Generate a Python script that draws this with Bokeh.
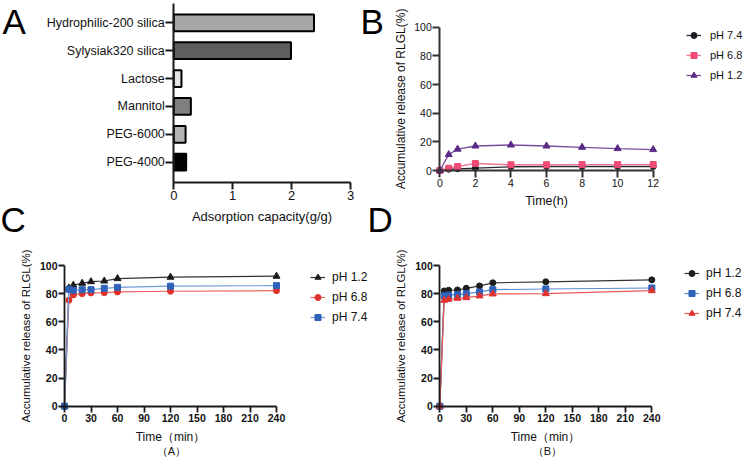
from bokeh.plotting import figure
from bokeh.layouts import row, column
from bokeh.models import Range1d, FixedTicker, Legend, LegendItem, Label, ColumnDataSource
from bokeh.embed import file_html
from bokeh.resources import INLINE

FONT = "Liberation Sans"

# ---------------- Panel A data ----------------
a_materials = ["Hydrophilic-200 silica", "Sylysiak320 silica", "Lactose", "Mannitol", "PEG-6000", "PEG-4000"]
a_capacity = [2.38, 1.99, 0.13, 0.29, 0.20, 0.21]
a_colors = ["#a6a6a6", "#5e5e5e", "#e4e4e4", "#7f7f7f", "#b4b4b4", "#000000"]
a_xticks = [0, 1, 2, 3]

# ---------------- Panel B data ----------------
b_time = [0, 0.5, 1, 2, 4, 6, 8, 10, 12]
b_ph74 = [0, 0.9, 1.2, 1.6, 2.6, 2.8, 2.8, 2.8, 2.8]
b_ph68 = [0, 1.6, 2.8, 4.9, 4.0, 4.0, 4.1, 4.1, 4.1]
b_ph12 = [0, 11.1, 14.9, 17.1, 17.8, 17.1, 16.2, 15.3, 14.6]
b_xticks = [0, 2, 4, 6, 8, 10, 12]

# ---------------- Panel C data ----------------
c_time = [0, 5, 10, 20, 30, 45, 60, 120, 240]
c_ph12 = [0, 84.0, 86.0, 87.4, 88.5, 89.0, 90.7, 91.7, 92.4]
c_ph68 = [0, 75.3, 79.1, 80.0, 80.5, 80.7, 81.2, 81.7, 82.1]
c_ph74 = [0, 83.1, 82.4, 82.8, 82.8, 83.8, 84.5, 85.3, 85.7]

# ---------------- Panel D data ----------------
d_time = [0, 5, 10, 20, 30, 45, 60, 120, 240]
d_ph12 = [0, 81.9, 82.4, 82.6, 83.8, 85.5, 87.7, 88.4, 89.8]
d_ph68 = [0, 78.4, 78.9, 79.3, 80.0, 81.2, 82.8, 83.3, 84.0]
d_ph74 = [0, 75.3, 76.0, 76.7, 77.2, 78.4, 79.8, 80.0, 82.1]

min_xticks = [0, 30, 60, 90, 120, 150, 180, 210, 240]
pct_ticks = [0, 20, 40, 60, 80, 100]
YLABEL = "Accumulative release of RLGL(%)"

TOP_H = 240          # height of the upper row
BOT_H = 459 - TOP_H  # height of the lower row


def lin(v0, p0, v1, p1, p):
    """value at pixel p for a linear map through (v0,p0) and (v1,p1)"""
    return v0 + (p - p0) * (v1 - v0) / (p1 - p0)


def base_fig(width, height, xr, yr):
    p = figure(width=width, height=height, output_backend="svg", toolbar_location=None,
               x_range=Range1d(*xr), y_range=Range1d(*yr),
               min_border_left=0, min_border_right=0, min_border_top=0, min_border_bottom=0)
    p.xgrid.visible = False
    p.ygrid.visible = False
    p.outline_line_color = None
    p.background_fill_color = "white"
    p.border_fill_color = "white"
    for ax in (p.xaxis[0], p.yaxis[0]):
        ax.axis_line_color = "#1a1a1a"
        ax.major_tick_line_color = "#1a1a1a"
        ax.minor_tick_line_color = None
        ax.major_tick_in = 0
        ax.major_label_text_color = "#111111"
        ax.major_label_text_font = FONT
        ax.axis_label_text_font = FONT
        ax.axis_label_text_font_style = "normal"
        ax.axis_label_text_color = "#111111"
    return p


def panel_letter(p, text, x, y):
    p.add_layout(Label(x=x, y=y, x_units="screen", y_units="screen", text=text,
                       text_font=FONT, text_font_size="35px", text_color="#000000",
                       text_baseline="middle", text_align="left"))


def make_legend(p, items, loc, fsize, standoff, row_h=20):
    p.add_layout(Legend(items=items, location=loc, padding=0, margin=0, spacing=0,
                        glyph_width=15, glyph_height=row_h, label_height=row_h,
                        label_standoff=standoff, label_text_font=FONT,
                        label_text_font_size=fsize, label_text_color="#111111",
                        label_text_baseline="middle",
                        border_line_alpha=0, background_fill_alpha=0))


# ================= Panel A =================  canvas: x 0..360, y 0..TOP_H
a_pos = [len(a_materials) - 1 - i for i in range(len(a_materials))]
ax_map = (0, 173.3, 3, 350.0)
ay_map = (0, 161.7, 5, 22.3)
pa = base_fig(360, TOP_H,
              (lin(*ax_map, 0), lin(*ax_map, 360)),
              (lin(*ay_map, TOP_H), lin(*ay_map, 0)))
src_a = ColumnDataSource(dict(y=a_pos, right=a_capacity, color=a_colors, name=a_materials))
pa.hbar(y="y", left=0, right="right", height=0.6, fill_color="color", line_color="#000000",
        line_width=2, source=src_a)
a_axis_y = lin(*ay_map, 182)
pa.xaxis.fixed_location = a_axis_y
pa.xaxis.bounds = (0, 3)
pa.yaxis.fixed_location = 0
pa.yaxis.bounds = (a_axis_y, lin(*ay_map, 3))
pa.xaxis.ticker = FixedTicker(ticks=a_xticks)
pa.yaxis.ticker = FixedTicker(ticks=a_pos)
pa.yaxis.major_label_overrides = {pos: name for pos, name in zip(a_pos, a_materials)}
for ax in (pa.xaxis[0], pa.yaxis[0]):
    ax.axis_line_width = 2
    ax.major_tick_line_width = 2
    ax.major_label_text_font_size = "13px"
    ax.axis_label_text_font_size = "13px"
pa.yaxis.major_label_text_font_size = "12.5px"
pa.xaxis.major_tick_out = 7
pa.yaxis.major_tick_out = 8
pa.xaxis.major_label_standoff = 1
pa.yaxis.major_label_standoff = 1
pa.xaxis.axis_label = "Adsorption capacity(g/g)"
pa.xaxis.axis_label_standoff = 6
panel_letter(pa, "A", 2, TOP_H - 20.5)
panel_letter(pa, "C", 0, TOP_H - 219)   # letter of the lower-left panel

# ================= Panel B =================  canvas: x 360..745, y 0..TOP_H
bx_map = (0, 439.3, 12, 652.7)
by_map = (0, 170.0, 100, 26.7)
pb = base_fig(385, TOP_H,
              (lin(*bx_map, 360), lin(*bx_map, 745)),
              (lin(*by_map, TOP_H), lin(*by_map, 0)))
pb.xaxis.fixed_location = 0
pb.xaxis.bounds = (0, 12)
pb.yaxis.fixed_location = 0
pb.yaxis.bounds = (0, 100)
for ax in (pb.xaxis[0], pb.yaxis[0]):
    ax.axis_line_width = 2
    ax.axis_line_color = "#333333"
    ax.major_tick_line_color = "#333333"
    ax.major_tick_line_width = 2
    ax.major_tick_out = 7
    ax.major_label_text_font_size = "10.5px"
    ax.axis_label_text_font_size = "12px"
pb.xaxis.axis_label_text_font_size = "12.5px"
pb.xaxis.ticker = FixedTicker(ticks=b_xticks)
pb.yaxis.ticker = FixedTicker(ticks=pct_ticks)
pb.xaxis.major_label_standoff = 1
pb.yaxis.major_label_standoff = 1
pb.xaxis.axis_label = "Time(h)"
pb.yaxis.axis_label = YLABEL
pb.xaxis.axis_label_standoff = 4
pb.yaxis.axis_label_standoff = 3

b_series = [
    ("pH 7.4", b_ph74, "#1c1c24", "#2a2a33", "circle", 6),
    ("pH 6.8", b_ph68, "#ee4b76", "#f27595", "square", 6),
    ("pH 1.2", b_ph12, "#5b2a86", "#7b4d9e", "triangle", 7),
]
b_items = []
for lab, ys, mc, lc, mk, sz in b_series:
    ln = pb.line(b_time, ys, line_color=lc, line_width=1.3)
    sc = pb.scatter(b_time, ys, marker=mk, size=sz, fill_color=mc, line_color=mc)
    b_items.append(LegendItem(label=lab, renderers=[ln, sc]))
make_legend(pb, b_items, (326, TOP_H - 85), "11px", 9)
panel_letter(pb, "B", 0, TOP_H - 20.5)
panel_letter(pb, "D", 7, TOP_H - 219)   # letter of the lower-right panel


# ================= Panels C, D =================
def release_fig(width, x_left, x_right, x0_px, x240_px):
    xm = (0, x0_px, 240, x240_px)
    ym = (0, 405.7, 100, 265.0)
    p = base_fig(width, BOT_H,
                 (lin(*xm, x_left), lin(*xm, x_right)),
                 (lin(*ym, 459), lin(*ym, TOP_H)))
    p.xaxis.fixed_location = 0
    p.xaxis.bounds = (0, 240)
    p.yaxis.fixed_location = 0
    p.yaxis.bounds = (0, 100)
    for ax in (p.xaxis[0], p.yaxis[0]):
        ax.axis_line_width = 1.8
        ax.major_tick_line_width = 1.8
        ax.major_tick_out = 6
        ax.major_label_text_font_size = "10.5px"
        ax.major_label_text_font_style = "bold"
        ax.axis_label_text_font_size = "11.5px"
    p.xaxis.ticker = FixedTicker(ticks=min_xticks)
    p.yaxis.ticker = FixedTicker(ticks=pct_ticks)
    p.xaxis.major_label_standoff = 2
    p.yaxis.major_label_standoff = 1
    p.xaxis.axis_label = "Time（min）"
    p.xaxis.axis_label_text_font_size = "12px"
    p.yaxis.axis_label = YLABEL
    p.xaxis.axis_label_standoff = 4
    p.yaxis.axis_label_standoff = 5
    return p


def add_series(p, t, series):
    items = []
    for lab, ys, mc, lc, mk, sz in series:
        ln = p.line(t, ys, line_color=lc, line_width=1.2)
        sc = p.scatter(t, ys, marker=mk, size=sz, fill_color=mc, line_color=mc)
        items.append(LegendItem(label=lab, renderers=[ln, sc]))
    return items


# C canvas: x 0..368, y TOP_H..459
pc = release_fig(368, 0, 368, 64.0, 276.0)
c_series = [
    ("pH 1.2", c_ph12, "#1a1a1a", "#333333", "triangle", 7),
    ("pH 6.8", c_ph68, "#e2302b", "#ea6560", "circle", 6),
    ("pH 7.4", c_ph74, "#2f62b8", "#6f9bd8", "square", 6),
]
make_legend(pc, add_series(pc, c_time, c_series), (310, 459 - 327), "12px", 7)
pc.add_layout(Label(x=171, y=459 - 450, x_units="screen", y_units="screen", text="（A）",
                    text_font=FONT, text_font_size="11px", text_align="center",
                    text_baseline="middle", text_color="#111111"))

# D canvas: x 368..745, y TOP_H..459
pd_ = release_fig(377, 368, 745, 439.3, 651.3)
d_series = [
    ("pH 1.2", d_ph12, "#1e1e1e", "#333333", "circle", 6),
    ("pH 6.8", d_ph68, "#2f62b8", "#5d8bd0", "square", 6),
    ("pH 7.4", d_ph74, "#e0302f", "#e85a58", "triangle", 7),
]
make_legend(pd_, add_series(pd_, d_time, d_series), (316, 459 - 323), "12px", 7)
pd_.add_layout(Label(x=547 - 368, y=459 - 450, x_units="screen", y_units="screen", text="（B）",
                     text_font=FONT, text_font_size="11px", text_align="center",
                     text_baseline="middle", text_color="#111111"))

layout = column(row(pa, pb), row(pc, pd_))
open("out.html", "w").write(file_html(layout, INLINE))
